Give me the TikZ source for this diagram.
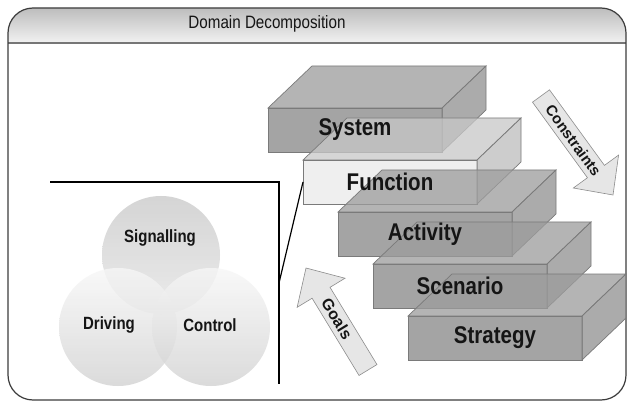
\documentclass[tikz,border=0pt]{standalone}
\usepackage{fontspec}
\setmainfont{Liberation Sans}
\usetikzlibrary{calc}

\definecolor{framec}{HTML}{3C3C3C}
\definecolor{headtop}{HTML}{BDBDBD}
\definecolor{headbot}{HTML}{F2F2F2}
\definecolor{headline}{HTML}{767676}
\definecolor{edgec}{HTML}{7A7A7A}
\definecolor{slabfr}{HTML}{868686}
\definecolor{slabtp}{HTML}{9C9C9C}
\definecolor{slabsd}{HTML}{909090}
\definecolor{funcfr}{HTML}{EAEAEA}
\definecolor{functp}{HTML}{C8C8C8}
\definecolor{funcsd}{HTML}{BDBDBD}
\definecolor{arrowfill}{HTML}{E6E6E6}
\definecolor{arrowedge}{HTML}{8C8C8C}
\definecolor{inkc}{HTML}{151515}

\tikzset{
  slabfront/.style={rectangle, draw=edgec, line width=0.7pt, fill opacity=0.75,
    minimum width=174pt, minimum height=44pt, inner sep=0pt, outer sep=0pt},
  slabface/.style={draw=edgec, line width=0.7pt, fill opacity=0.75},
  slablabel/.style={font=\bfseries\fontsize{20.5}{24}\selectfont, text=inkc, yscale=1.18},
  venncircle/.style={circle, minimum size=118pt, inner sep=0pt, outer sep=0pt, fill opacity=0.78},
  vennlabel/.style={font=\bfseries\fontsize{15}{18}\selectfont, text=inkc, yscale=1.18},
  blockarrow/.style={fill=arrowfill, draw=arrowedge, line width=0.6pt, line join=miter},
  arrowlabel/.style={font=\bfseries\fontsize{15}{18}\selectfont, text=inkc},
  linkline/.style={draw=black, line width=1.4pt},
}

% one 3-D slab: front face as a node, then its top and right faces
\newcommand\slab[6]{%
  \node[slabfront, fill=#4] (#1) at (#2,#3) {};
  \path[slabface, fill=#5] (#1.north west) -- ++(44,-42) -- ++(174,0) -- (#1.north east) -- cycle;
  \path[slabface, fill=#6] (#1.north east) -- ++(44,-42) -- ++(0,44) -- (#1.south east) -- cycle;
}

% a block arrow from coordinate #1 (tail) to coordinate #2 (tip); #3 is a name prefix
\newcommand\blockarr[3]{%
  \coordinate (#3B) at ($(#2)!29pt!(#1)$);
  \path[blockarrow]
    ($(#1)!10.5pt!90:(#2)$) -- ($(#3B)!10.5pt!-90:(#1)$) -- ($(#3B)!28pt!-90:(#1)$)
    -- (#2) -- ($(#3B)!28pt!90:(#1)$) -- ($(#3B)!10.5pt!90:(#1)$)
    -- ($(#1)!10.5pt!-90:(#2)$) -- cycle;
}

\begin{document}
\begin{tikzpicture}[x=1pt, y=-1pt]
\useasboundingbox (0,0) rectangle (627,401);
\fill[white] (0,0) rectangle (627,401);

% panel with its shaded title bar
\begin{scope}
  \clip[rounded corners=25pt] (8,8) rectangle (626,400);
  \fill[top color=headtop, bottom color=headbot] (8,8) rectangle (626,43);
\end{scope}
\draw[headline, line width=2.2pt] (8,43) -- (626,43);
\draw[framec, line width=1.2pt, rounded corners=25pt] (8,8) rectangle (626,400);
\node[font=\fontsize{15.2}{18}\selectfont, text=inkc, yscale=1.18] (title) at (267,24) {Domain Decomposition};

% Venn diagram of the three domains
\node[venncircle, top color=gray!42, bottom color=gray!20] (sig) at (161,255) {};
\node[venncircle, top color=gray!6, bottom color=gray!36] (drv) at (118,327) {};
\node[venncircle, top color=gray!6, bottom color=gray!36] (ctl) at (211,327) {};
\node[vennlabel] (sigT) at (160,238) {Signalling};
\node[vennlabel] (drvT) at (109,325) {Driving};
\node[vennlabel] (ctlT) at (210,325) {Control};

% stair of abstraction levels
\slab{sys}{355}{130}{slabfr}{slabtp}{slabsd}
\slab{fun}{390}{182}{funcfr}{functp}{funcsd}
\slab{act}{425}{234}{slabfr}{slabtp}{slabsd}
\slab{scn}{460}{286}{slabfr}{slabtp}{slabsd}
\slab{str}{495}{338}{slabfr}{slabtp}{slabsd}
\node[slablabel] (sysT) at (sys) {System};
\node[slablabel] (funT) at (fun) {Function};
\node[slablabel] (actT) at (act) {Activity};
\node[slablabel] (scnT) at (scn) {Scenario};
\node[slablabel] (strT) at (str) {Strategy};

% bracket linking the Venn diagram to the Function level
\coordinate (lstart) at (50,182);
\coordinate (lcorner) at (279,182);
\coordinate (lend) at (279,384);
\coordinate (ljoin) at (279,283);
\draw[linkline] (lstart) -- (lcorner) -- (lend);
\draw[black, line width=1.2pt] (ljoin) -- (fun.west);

% Constraints flow down, Goals flow up
\coordinate (cTail) at (541,96);
\coordinate (cTip) at (613,195);
\blockarr{cTail}{cTip}{c}
\node[arrowlabel, rotate=-54] (cLbl) at ($(cTail)!0.45!(cTip)$) {Constraints};

\coordinate (gTail) at (368,370);
\coordinate (gTip) at (306,268);
\blockarr{gTail}{gTip}{g}
\node[arrowlabel, font=\bfseries\fontsize{16}{18}\selectfont, rotate=-58.7] (gLbl) at ($(gTip)!0.5!(gTail)$) {Goals};
\end{tikzpicture}
\end{document}
